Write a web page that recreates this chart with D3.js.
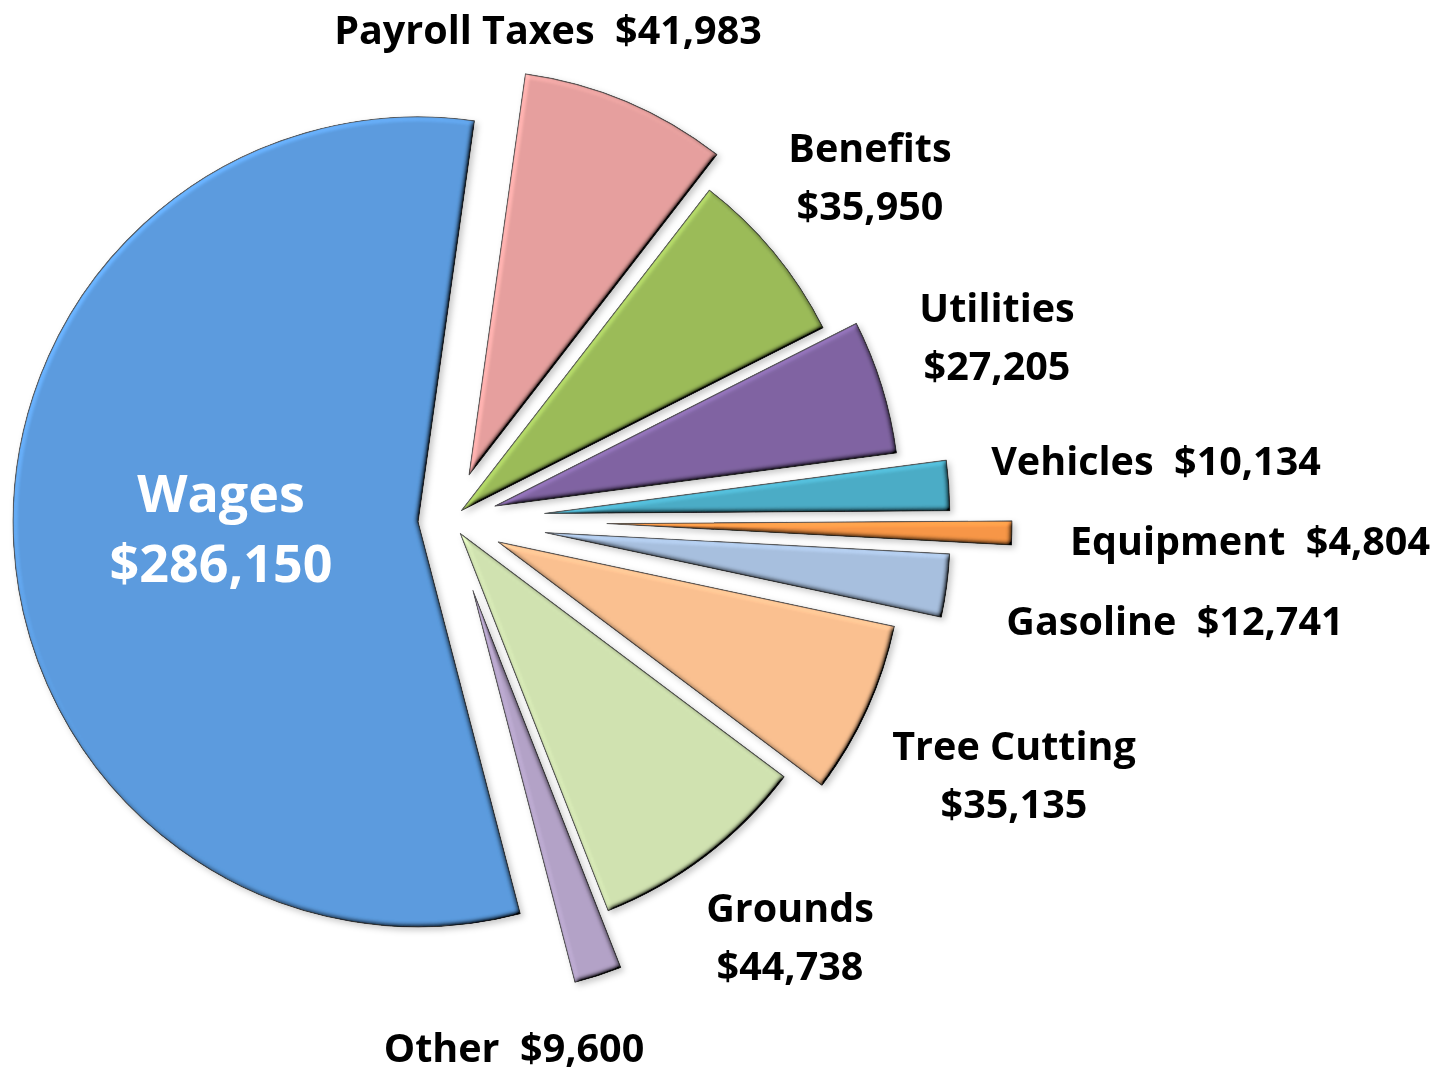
<!DOCTYPE html>
<html>
<head>
<meta charset="utf-8">
<script src="https://cdn.jsdelivr.net/npm/d3@7"></script>
<style>
  body { margin: 0; background: #fff; }
  text { font-family: "Open Sans", Lato, sans-serif; font-weight: bold; white-space: pre; font-variant-ligatures: none; }
</style>
</head>
<body>
<script>
// slices in clockwise order, starting at 12 o'clock
var categories = ["Payroll Taxes", "Benefits", "Utilities", "Vehicles", "Equipment", "Gasoline", "Tree Cutting", "Grounds", "Other", "Wages"];
var amounts = [41983, 35950, 27205, 10134, 4804, 12741, 35135, 44738, 9600, 286150];
var colors = ["#E6A09E", "#9BBB59", "#8064A2", "#4BACC6", "#F79646", "#A7BFDE", "#FAC090", "#D0E2B0", "#B3A2C7", "#5B9BDE"];

// how far each slice is pulled out of the pie (px)
var explode = [49, 15, 47, 95, 157, 96, 53, 17, 74, 32];
// label anchor (centre x, baseline y of first line) and whether value goes on a 2nd line
var labelPos = [[548, 44], [870, 162], [997, 322], [1156, 475], [1250, 555], [1175, 635], [1014, 760], [790, 922], [514, 1062], [221, 512]];
var twoLines = [false, true, true, false, false, false, true, true, false, true];

var width = 1447, height = 1073;
var cx = 450, cy = 520, radius = 405;
var startDeg = 8;

var svg = d3.select("body").append("svg")
  .attr("width", width)
  .attr("height", height);

var defs = svg.append("defs");

// soft shadow under the slices
var shadow = defs.append("filter").attr("id", "shadow")
  .attr("x", "-20%").attr("y", "-20%").attr("width", "140%").attr("height", "140%");
shadow.append("feDropShadow").attr("dx", 3).attr("dy", 3).attr("stdDeviation", 3)
  .attr("flood-color", "#000").attr("flood-opacity", 0.22);

// bevel: light the blurred alpha from the top left and multiply it in
var bevel = defs.append("filter").attr("id", "bevel")
  .attr("x", "-10%").attr("y", "-10%").attr("width", "120%").attr("height", "120%");
bevel.append("feGaussianBlur").attr("in", "SourceAlpha").attr("stdDeviation", 2.5).attr("result", "blur");
bevel.append("feDiffuseLighting").attr("in", "blur").attr("surfaceScale", 4)
  .attr("diffuseConstant", 1).attr("lighting-color", "#fff").attr("result", "light")
  .append("feDistantLight").attr("azimuth", 225).attr("elevation", 45);
bevel.append("feComposite").attr("in", "SourceGraphic").attr("in2", "light")
  .attr("operator", "arithmetic").attr("k1", 1.414).attr("k2", 0).attr("k3", 0).attr("k4", 0)
  .attr("result", "lit");
bevel.append("feComposite").attr("in", "lit").attr("in2", "SourceAlpha").attr("operator", "in");

var pie = d3.pie()
  .sort(null)
  .startAngle(startDeg * Math.PI / 180)
  .endAngle((startDeg + 360) * Math.PI / 180)
  .value(function(d) { return d; });

var arc = d3.arc().innerRadius(0).outerRadius(radius);

var slices = pie(amounts);

var piegroup = svg.append("g")
  .attr("transform", "translate(" + cx + "," + cy + ")")
  .attr("filter", "url(#shadow)");

piegroup.selectAll("path")
  .data(slices)
  .enter()
  .append("path")
  .attr("transform", function(d, i) {
    var mid = (d.startAngle + d.endAngle) / 2;
    return "translate(" + (Math.sin(mid) * explode[i]) + "," + (-Math.cos(mid) * explode[i]) + ")";
  })
  .attr("d", arc)
  .attr("fill", function(d, i) { return colors[i]; })
  .attr("stroke", "#3a3a3a")
  .attr("stroke-opacity", 0.8)
  .attr("stroke-width", 1.2)
  .attr("stroke-linejoin", "round")
  .attr("filter", "url(#bevel)");

// LABELS
var fmt = d3.format("$,");
var labelgroup = svg.append("g");

categories.forEach(function(name, i) {
  var isWages = name == "Wages";
  var size = isWages ? 52 : 39.5;
  var gap = isWages ? 70 : 58;
  var t = labelgroup.append("text")
    .attr("x", labelPos[i][0])
    .attr("y", labelPos[i][1])
    .attr("text-anchor", "middle")
    .style("font-size", size + "px")
    .attr("fill", isWages ? "#fff" : "#000");
  if (twoLines[i]) {
    t.append("tspan").attr("x", labelPos[i][0]).text(name);
    t.append("tspan").attr("x", labelPos[i][0]).attr("dy", gap).text(fmt(amounts[i]));
  } else {
    t.text(name + "  " + fmt(amounts[i]));
  }
});
</script>
</body>
</html>
